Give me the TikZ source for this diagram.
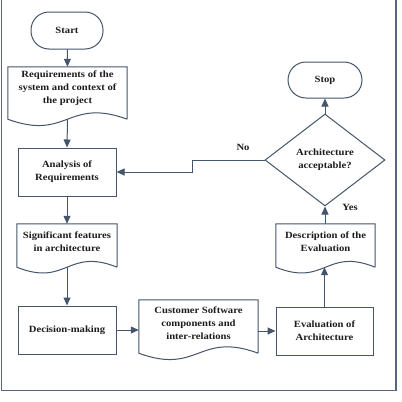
\documentclass[tikz,border=0pt]{standalone}
\usepackage{fontspec}
\setmainfont{Liberation Serif}[FakeStretch=1.12]
\usetikzlibrary{shapes.geometric,arrows.meta,calc}
\definecolor{lin}{HTML}{45556B}
\definecolor{frm}{HTML}{56667D}
\definecolor{txc}{HTML}{1C1C1C}
\tikzset{
  every node/.style={font=\bfseries\fontsize{9.5}{12.8}\selectfont, text=txc, align=center},
  shapeline/.style={draw=lin, line width=1pt},
  procbox/.style={shapeline, rectangle, inner sep=2pt},
  termbox/.style={shapeline, rectangle, rounded corners=18pt, inner sep=2pt},
  docbox/.style={rectangle, draw=none, inner sep=0pt},
  decbox/.style={shapeline, diamond, inner sep=0pt, minimum width=120pt, minimum height=92pt},
  flow/.style={draw=lin, line width=1pt, -{Triangle[length=8pt,width=7pt]}},
  lab/.style={inner sep=1pt}
}
\newcommand\docoutline[2]{\draw[shapeline] (#1.south east) -- (#1.north east) -- (#1.north west) -- (#1.south west) .. controls ($(#1.south)+(0,#2)$) and ($(#1.south)+(0,-#2)$) .. (#1.south east);}
\begin{document}
\begin{tikzpicture}[x=1pt,y=-1pt]
\useasboundingbox (0,0) rectangle (402,402);
\fill[white] (0,0) rectangle (402,402);
\draw[frm, line width=1.8pt] (1.5,0) -- (1.5,390.5) -- (396,390.5) -- (396,0);
% nodes
\node[termbox, minimum width=72pt, minimum height=37pt] (start) at (67,30.5) {Start};
\node[docbox, minimum width=119pt, minimum height=52pt] (req) at (67.5,93) {};
\node at (67.5,88) {Requirements of the\\system and context of\\the project};
\node[procbox, minimum width=98pt, minimum height=48pt] (ana) at (67,172) {Analysis of\\Requirements};
\node[docbox, minimum width=100pt, minimum height=43pt] (sig) at (67,245.5) {};
\node at (67,241.5) {Significant features\\in architecture};
\node[procbox, minimum width=98pt, minimum height=48pt] (dec) at (67,330) {Decision-making};
\node[docbox, minimum width=119pt, minimum height=53pt] (cust) at (198.5,326.5) {};
\node at (198.5,323) {Customer Software\\components and\\inter-relations};
\node[procbox, minimum width=97pt, minimum height=48pt] (eval) at (324.5,331) {Evaluation of\\Architecture};
\node[docbox, minimum width=99pt, minimum height=43pt] (desc) at (325.5,245.5) {};
\node at (325.5,241.5) {Description of the\\Evaluation};
\node[decbox] (dia) at (325,160) {Architecture\\acceptable?};
\node[termbox, minimum width=74pt, minimum height=36pt] (stop) at (325,80) {Stop};
\docoutline{req}{22}
\docoutline{sig}{20}
\docoutline{cust}{22}
\docoutline{desc}{20}
% connectors
\coordinate (bend) at (192,160);
\draw[flow] (start) -- (req.north);
\draw[flow] (req.south) -- (ana.north);
\draw[flow] (ana) -- (sig.north);
\draw[flow] (sig.south) -- (dec.north);
\draw[flow] (dec.east) -- (dec.east -| cust.west);
\draw[flow] (eval.west -| cust.east) -- (eval.west);
\draw[flow] (eval.north) -- (eval.north |- desc.south);
\draw[flow] (desc.north -| dia.south) -- (dia.south);
\draw[flow] (dia.north) -- (stop.south);
\draw[flow] (dia.west) -- (bend) |- (ana.east);
\node[lab] (no) at (243,147) {No};
\node[lab] (yes) at (350,207.5) {Yes};
\end{tikzpicture}
\end{document}
